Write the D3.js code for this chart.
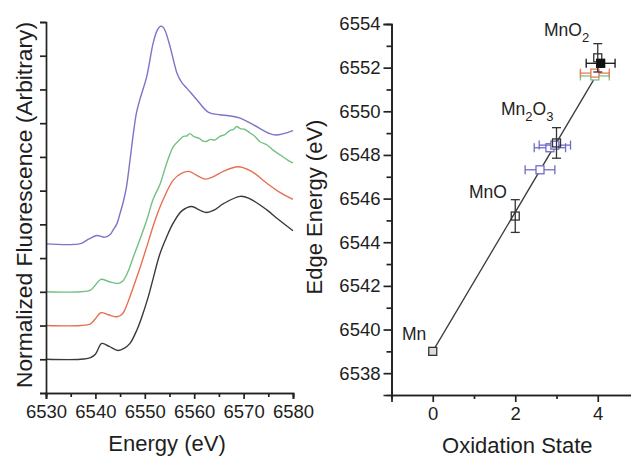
<!DOCTYPE html>
<html>
<head>
<meta charset="utf-8">
<script src="https://cdn.jsdelivr.net/npm/d3@7"></script>
<style>
  html, body { margin: 0; padding: 0; background: #fff; }
  svg { display: block; }
  text { font-family: "Liberation Sans", Arial, sans-serif; fill: #1e1e1e; }
</style>
</head>
<body>
<svg id="chart" width="631" height="459"></svg>
<script>
// ---- XANES spectra (energy in eV, normalized fluorescence, offset per trace) ----
const spectrumBlack = [
  [6530, 1.0], [6537, 1.0], [6539, 1.05], [6540, 1.15], [6541.3, 1.47], [6542.8, 1.38],
  [6544.6, 1.26], [6545.8, 1.32], [6547, 1.47], [6548.4, 1.87], [6549.5, 2.3], [6550.7, 2.85],
  [6551.7, 3.4], [6553, 4.1], [6554.4, 4.62], [6555.8, 5.05], [6557.5, 5.4], [6559.5, 5.53],
  [6561, 5.43], [6562.5, 5.35], [6564, 5.42], [6566, 5.62], [6569.3, 5.83], [6571, 5.78],
  [6574.7, 5.43], [6577, 5.15], [6580, 4.81]
];
const spectrumRed = [
  [6530, 2.0], [6537, 2.0], [6539, 2.05], [6540, 2.2], [6541.1, 2.38], [6542.6, 2.32],
  [6544.4, 2.26], [6545.5, 2.35], [6546.6, 2.7], [6547.7, 3.15], [6549, 3.7], [6550.4, 4.34],
  [6552.1, 5.13], [6553.7, 5.73], [6555.8, 6.32], [6557.5, 6.52], [6558.9, 6.57], [6560.7, 6.44],
  [6562.3, 6.34], [6564, 6.42], [6566, 6.58], [6568.9, 6.71], [6571.5, 6.58], [6574.7, 6.22],
  [6577, 5.98], [6580, 5.74]
];
const spectrumGreen = [
  [6530, 3.0], [6537, 3.0], [6539, 3.05], [6540, 3.2], [6541.1, 3.37], [6542.8, 3.3],
  [6544.6, 3.25], [6545.6, 3.33], [6546.6, 3.6], [6547.7, 4.04], [6549, 4.55], [6550.4, 5.13],
  [6551.7, 5.75], [6553.1, 6.2], [6554.4, 6.8], [6555.8, 7.31], [6557, 7.5], [6557.8, 7.61],
  [6558.5, 7.62], [6559.1, 7.69], [6560, 7.6], [6561, 7.55], [6561.8, 7.47], [6562.5, 7.46],
  [6563.3, 7.52], [6564.2, 7.5], [6565.2, 7.61], [6566.2, 7.66], [6567.2, 7.78], [6568, 7.82],
  [6568.6, 7.9], [6569.3, 7.84], [6570.2, 7.82], [6571.3, 7.71], [6572.2, 7.62], [6573.3, 7.45],
  [6574.7, 7.36], [6576, 7.2], [6577.5, 7.05], [6579, 6.9], [6580, 6.82]
];
const spectrumBlue = [
  [6530, 4.42], [6537, 4.43], [6538.6, 4.56], [6540.3, 4.67], [6541.9, 4.62], [6543, 4.7],
  [6543.6, 4.84], [6544.3, 5.0], [6545.0, 5.33], [6545.7, 5.7], [6546.3, 6.12], [6547, 6.9],
  [6547.7, 7.71], [6548.3, 8.3], [6549.0, 8.7], [6550.4, 9.39], [6551.7, 10.38], [6552.5, 10.75],
  [6553.1, 10.87], [6553.6, 10.86], [6554.1, 10.75], [6555.1, 10.28], [6556, 9.75], [6556.5, 9.49],
  [6557.5, 9.2], [6558.5, 9.04], [6560.5, 8.7], [6562.9, 8.32], [6565.2, 8.25], [6567, 8.22],
  [6569.3, 8.15], [6572.0, 7.95], [6575.3, 7.69], [6576.5, 7.65], [6578.1, 7.69], [6580, 7.78]
];
const spectra = [spectrumBlack, spectrumRed, spectrumGreen, spectrumBlue];
const spectraColors = ["#3a3a3a", "#e8704f", "#72c083", "#7a75c8"];
const energyTicks = [6530, 6540, 6550, 6560, 6570, 6580];

// ---- Edge energy vs oxidation state ----
const refNames = ["Mn", "MnO", "Mn2O3", "MnO2"];
const refOxidation = [0, 2, 3, 4];
const refEdge = [6539.0, 6545.2, 6548.55, 6552.45];
const refEdgeErr = [0, 0.75, 0.7, 0.65];

const sampleOxidation = [2.6, 2.84, 2.96, 3.93, 3.93, 4.07];
const sampleEdge = [6547.32, 6548.33, 6548.45, 6551.62, 6551.75, 6552.2];
const sampleOxErr = [0.36, 0.38, 0.38, 0.35, 0.35, 0.35];
const sampleColors = ["#6f6cc6", "#6f6cc6", "#6f6cc6", "#77c489", "#ec7a55", "#111111"];
const sampleFilled = [false, false, false, false, false, true];

const fitIntercept = 6539.0;
const fitSlope = 3.19;
const fitRange = [0, 3.95];
const oxTicks = [0, 2, 4];
const edgeTicks = [6538, 6540, 6542, 6544, 6546, 6548, 6550, 6552, 6554];

const svg = d3.select("#chart");
const axisColor = "#222";

function styleAxis(g) {
  g.selectAll("path.domain").attr("stroke", axisColor).attr("stroke-width", 1.7);
  g.selectAll(".tick line").attr("stroke", axisColor).attr("stroke-width", 1.7);
  g.selectAll("text").attr("font-size", 18.5).attr("fill", "#1e1e1e")
    .attr("font-family", "Liberation Sans, Arial, sans-serif");
}

// ================= Left panel: spectra =================
const xE = d3.scaleLinear().domain([6530, 6580]).range([46, 293]);
const yF = d3.scaleLinear().domain([0, 11]).range([393, 22]);

const line = d3.line().x(d => xE(d[0])).y(d => yF(d[1])).curve(d3.curveCatmullRom.alpha(0.5));
spectra.forEach((s, i) => {
  svg.append("path").datum(s).attr("d", line)
    .attr("fill", "none").attr("stroke", spectraColors[i]).attr("stroke-width", 1.4);
});

// minor energy ticks
svg.append("g").attr("transform", "translate(0,393)")
  .call(d3.axisBottom(xE).tickValues(d3.range(6535, 6580, 10)).tickSize(4).tickFormat(""))
  .call(styleAxis);
svg.append("g").attr("transform", "translate(0,393)")
  .call(d3.axisBottom(xE).tickValues(energyTicks).tickSize(6).tickPadding(6).tickFormat(d3.format("d")))
  .call(styleAxis);
svg.append("g").attr("transform", "translate(46,0)")
  .call(d3.axisLeft(yF).tickValues(d3.range(0, 12)).tickSize(6).tickFormat(""))
  .call(styleAxis);

svg.append("text").attr("x", xE(6554.5)).attr("y", 451).attr("text-anchor", "middle")
  .attr("font-size", 22).text("Energy (eV)");
svg.append("text").attr("transform", "translate(32,205) rotate(-90)").attr("text-anchor", "middle")
  .attr("font-size", 22.8).text("Normalized Fluorescence (Arbitrary)");

// ================= Right panel: edge energy =================
const xO = d3.scaleLinear().domain([-1, 5]).range([391.5, 639]);
const yE = d3.scaleLinear().domain([6537, 6554]).range([395, 24]);

svg.append("g").attr("transform", "translate(0,395)")
  .call(d3.axisBottom(xO).tickValues([-1, 1, 3]).tickSize(4).tickFormat(""))
  .call(styleAxis);
svg.append("g").attr("transform", "translate(0,395)")
  .call(d3.axisBottom(xO).tickValues(oxTicks).tickSize(7).tickPadding(5).tickFormat(d3.format("d")))
  .call(styleAxis);
svg.append("g").attr("transform", "translate(391.5,0)")
  .call(d3.axisLeft(yE).tickValues(d3.range(6539, 6554, 2)).tickSize(5).tickFormat(""))
  .call(styleAxis);
svg.append("g").attr("transform", "translate(391.5,0)")
  .call(d3.axisLeft(yE).tickValues(edgeTicks).tickSize(8).tickPadding(3).tickFormat(d3.format("d")))
  .call(styleAxis);

svg.append("text").attr("x", xO(2.05)).attr("y", 453).attr("text-anchor", "middle")
  .attr("font-size", 22).text("Oxidation State");
svg.append("text").attr("transform", "translate(322,207) rotate(-90)").attr("text-anchor", "middle")
  .attr("font-size", 22).text("Edge Energy (eV)");

// linear fit
svg.append("line")
  .attr("x1", xO(fitRange[0])).attr("y1", yE(fitIntercept + fitSlope * fitRange[0]))
  .attr("x2", xO(fitRange[1])).attr("y2", yE(fitIntercept + fitSlope * fitRange[1]))
  .attr("stroke", "#3a3a3a").attr("stroke-width", 1.3);

const cap = 4.5;
const sq = 8;

// samples: horizontal error bars + squares
sampleOxidation.forEach((ox, i) => {
  const g = svg.append("g").attr("stroke", sampleColors[i]).attr("stroke-width", 1.3).attr("fill", "none");
  const cy = yE(sampleEdge[i]);
  const x1 = xO(ox - sampleOxErr[i]), x2 = xO(ox + sampleOxErr[i]);
  g.append("line").attr("x1", x1).attr("x2", x2).attr("y1", cy).attr("y2", cy);
  g.append("line").attr("x1", x1).attr("x2", x1).attr("y1", cy - cap).attr("y2", cy + cap);
  g.append("line").attr("x1", x2).attr("x2", x2).attr("y1", cy - cap).attr("y2", cy + cap);
  g.append("rect").attr("x", xO(ox) - sq / 2).attr("y", cy - sq / 2).attr("width", sq).attr("height", sq)
    .attr("fill", sampleFilled[i] ? sampleColors[i] : "#fff");
});

// reference compounds: vertical error bars + open squares
refOxidation.forEach((ox, i) => {
  const g = svg.append("g").attr("stroke", "#333").attr("stroke-width", 1.3).attr("fill", "none");
  const cx = xO(ox), cy = yE(refEdge[i]);
  if (refEdgeErr[i] > 0) {
    const y1 = yE(refEdge[i] + refEdgeErr[i]), y2 = yE(refEdge[i] - refEdgeErr[i]);
    g.append("line").attr("x1", cx).attr("x2", cx).attr("y1", y1).attr("y2", y2);
    g.append("line").attr("x1", cx - cap).attr("x2", cx + cap).attr("y1", y1).attr("y2", y1);
    g.append("line").attr("x1", cx - cap).attr("x2", cx + cap).attr("y1", y2).attr("y2", y2);
  }
  g.append("rect").attr("x", cx - sq / 2).attr("y", cy - sq / 2).attr("width", sq).attr("height", sq)
    .attr("fill", i === 0 ? "#ddd" : "none");
});
// keep the filled sample square on top of the MnO2 reference
svg.append("rect").attr("x", xO(sampleOxidation[5]) - sq / 2).attr("y", yE(sampleEdge[5]) - sq / 2)
  .attr("width", sq).attr("height", sq).attr("fill", "#111");

// compound labels with subscripts
function chemLabel(x, y, parts) {
  const t = svg.append("text").attr("x", x).attr("y", y).attr("font-size", 17.5);
  parts.forEach(p => {
    if (p.sub) {
      t.append("tspan").attr("font-size", 13).attr("dy", 6).text(p.s);
    } else {
      t.append("tspan").attr("dy", p.after ? -6 : 0).text(p.s);
    }
  });
  return t;
}
chemLabel(402, 340, [{ s: "Mn" }]);
chemLabel(469, 198, [{ s: "MnO" }]);
chemLabel(501, 115, [{ s: "Mn" }, { s: "2", sub: true }, { s: "O", after: true }, { s: "3", sub: true }]);
chemLabel(544, 36, [{ s: "MnO" }, { s: "2", sub: true }]);
</script>
</body>
</html>
